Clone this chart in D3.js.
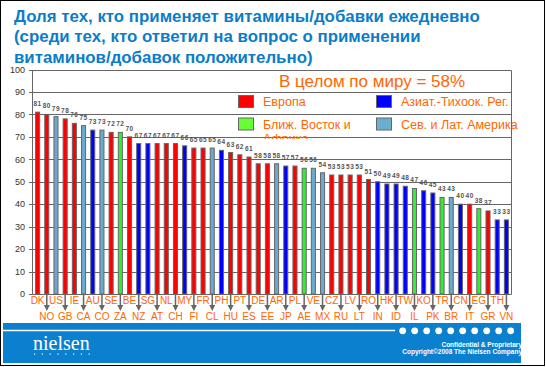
<!DOCTYPE html>
<html><head><meta charset="utf-8">
<script src="https://cdn.jsdelivr.net/npm/d3@7"></script>
<style>body{margin:0;background:#fff}svg{display:block}</style>
</head><body>
<svg id="c" width="546" height="367"></svg>
<script>
const titleLines = ["Доля тех, кто применяет витамины/добавки ежедневно","(среди тех, кто ответил на вопрос о применении","витаминов/добавок положительно)"];
const countries = ["DK","NO","US","GB","IE","CA","AU","CO","SE","ZA","BE","NZ","SG","AT","NL","CH","MY","FI","FR","CL","PH","HU","PT","ES","DE","EE","AR","JP","PL","AE","VE","MX","CZ","RU","LV","LT","RO","IN","HK","ID","TW","IL","KO","PK","TR","BR","CN","IT","EG","GR","TH","VN"];
const values = [81,80,79,78,76,75,73,73,72,72,70,67,67,67,67,67,66,65,65,65,64,63,62,61,58,58,58,57,57,56,56,54,53,53,53,53,51,50,49,49,48,47,46,45,43,43,40,40,38,37,33,33];
const regions = ["E","E","L","E","E","L","A","L","E","M","E","A","A","E","E","E","A","E","E","L","A","E","E","E","E","E","L","A","E","M","L","L","E","E","E","E","E","A","A","A","A","M","A","A","M","L","A","E","M","E","A","A"];
const regionKeys = ["E","A","M","L"];
const regionNames = {E:"Европа",A:"Азиат.-Тихоок. Рег.",M:"Ближ. Восток и Африка",L:"Сев. и Лат. Америка"};
const yTicks = [0,10,20,30,40,50,60,70,80,90,100];
const worldLabel = "В целом по миру = 58%";

const barColor = {E:"#ff0000",A:"#0000ff",M:"#33ee33",L:"#6aaad0"};
const swatchColor = {E:"#ff0000",A:"#0000ff",M:"#66ff33",L:"#6aaed0"};
const orange = "#ff6600";

const svg = d3.select("#c");
const L = 32.5, R = 511.5;
const y = d3.scaleLinear().domain([0,100]).range([294,69.5]);
const x = d3.scaleBand().domain(countries).range([33,511]).paddingInner(0.45).paddingOuter(0.225);

// title
svg.append("g").selectAll("text").data(titleLines).join("text")
  .attr("x",14).attr("y",(d,i)=>22+i*20.3)
  .attr("font-family","Liberation Sans, Arial, sans-serif").attr("font-weight","bold")
  .attr("font-size",16.85).attr("fill","#0b7dc8").text(d=>d);

// gridlines
svg.append("g").selectAll("line").data(yTicks).join("line")
  .attr("x1",29).attr("x2",R).attr("y1",d=>Math.round(y(d))+0.5).attr("y2",d=>Math.round(y(d))+0.5)
  .attr("stroke","#666").attr("stroke-width",1);
// frame verticals
svg.append("line").attr("x1",L).attr("x2",L).attr("y1",Math.round(y(100))+0.5).attr("y2",Math.round(y(0))+0.5).attr("stroke","#666");
svg.append("line").attr("x1",R).attr("x2",R).attr("y1",Math.round(y(100))+0.5).attr("y2",Math.round(y(0))+0.5).attr("stroke","#666");
// y labels
svg.append("g").selectAll("text").data(yTicks).join("text")
  .attr("x",25).attr("y",d=>y(d)+3.2).attr("text-anchor","end")
  .attr("font-family","Liberation Sans, Arial, sans-serif").attr("font-size",9).attr("fill","#333").text(d=>d);

// legend
const lg = svg.append("g");
const clip = svg.append("clipPath").attr("id","lgclip");
clip.append("rect").attr("x",200).attr("y",60).attr("width",330).attr("height",79);
lg.append("text").attr("x",372).attr("y",87).attr("text-anchor","middle")
  .attr("font-family","Liberation Sans, Arial, sans-serif").attr("font-size",17).attr("fill",orange).text(worldLabel);
const legPos = {E:[238,95],A:[376,95],M:[238,117.5],L:[376,117.5]};
regionKeys.forEach(k=>{
  const [lx,ly]=legPos[k];
  lg.append("rect").attr("x",lx+0.5).attr("y",ly+0.5).attr("width",15).attr("height",12)
    .attr("fill",swatchColor[k]).attr("stroke","#666").attr("stroke-width",1);
  const t = lg.append("text").attr("x",lx+25).attr("y",ly+11)
    .attr("font-family","Liberation Sans, Arial, sans-serif").attr("font-size",12.5).attr("fill",orange)
    .attr("clip-path","url(#lgclip)");
  if(k==="M"){
    t.append("tspan").attr("x",lx+25).text("Ближ. Восток и");
    t.append("tspan").attr("x",lx+25).attr("dy",14).text("Африка");
  } else t.text(regionNames[k]);
});

// bars
svg.append("g").selectAll("rect").data(countries).join("rect")
  .attr("x",d=>x(d)+0.5).attr("y",(d,i)=>y(values[i]))
  .attr("width",x.bandwidth()-1).attr("height",(d,i)=>y(0)-y(values[i]))
  .attr("fill",(d,i)=>barColor[regions[i]]).attr("stroke","#666").attr("stroke-width",1);
// value labels
svg.append("g").selectAll("text").data(countries).join("text")
  .attr("x",d=>x(d)+x.bandwidth()/2).attr("y",(d,i)=>y(values[i])-6)
  .attr("text-anchor","middle").attr("font-family","Liberation Sans, Arial, sans-serif")
  .attr("font-weight","bold").attr("font-size",6.5).attr("letter-spacing",0.5).attr("fill","#555")
  .text((d,i)=>values[i]);

// x labels
const xl = svg.append("g");
countries.forEach((c,i)=>{
  const cx = x(c)+x.bandwidth()/2;
  if(i%2===0){
    xl.append("text").attr("x",cx).attr("y",303.5).attr("text-anchor","middle")
      .attr("font-family","Liberation Sans, Arial, sans-serif").attr("font-size",10).attr("fill",orange).text(c);
  } else {
    xl.append("line").attr("x1",cx).attr("x2",cx).attr("y1",294).attr("y2",306).attr("stroke","#666").attr("stroke-width",1.5);
    xl.append("path").attr("d",`M${cx-3},${305}L${cx+3},${305}L${cx},${311}Z`).attr("fill","#666");
    xl.append("text").attr("x",cx).attr("y",320).attr("text-anchor","middle")
      .attr("font-family","Liberation Sans, Arial, sans-serif").attr("font-size",10).attr("fill",orange).text(c);
  }
});

// footer
svg.append("rect").attr("x",3).attr("y",323).attr("width",518).attr("height",40).attr("fill","#0a80cf");
svg.append("line").attr("x1",3).attr("x2",395).attr("y1",330.5).attr("y2",330.5).attr("stroke","#fff").attr("stroke-width",1.3);
svg.append("g").selectAll("circle").data(d3.range(10)).join("circle")
  .attr("cx",d=>402.7+d*12).attr("cy",330.8).attr("r",3.4).attr("fill","#fff");
svg.append("text").attr("x",33).attr("y",350).attr("font-family","Liberation Serif, serif")
  .attr("font-size",20).attr("fill","#fff").text("nielsen");
svg.append("g").selectAll("rect").data(d3.range(8)).join("rect")
  .attr("x",d=>34+d*7.8).attr("y",353.5).attr("width",1.2).attr("height",1.2).attr("fill","#fff");
svg.append("text").attr("x",522).attr("y",347).attr("text-anchor","end").attr("font-family","Liberation Sans, Arial, sans-serif")
  .attr("font-weight","bold").attr("font-size",6.5).attr("fill","#fff").text("Confidential & Proprietary");
svg.append("text").attr("x",522).attr("y",354).attr("text-anchor","end").attr("font-family","Liberation Sans, Arial, sans-serif")
  .attr("font-weight","bold").attr("font-size",6.5).attr("fill","#fff").text("Copyright©2008 The Nielsen Company");

// outer border
svg.append("rect").attr("x",0.5).attr("y",0.5).attr("width",544).attr("height",365).attr("fill","none").attr("stroke","#000");
</script>
</body></html>
